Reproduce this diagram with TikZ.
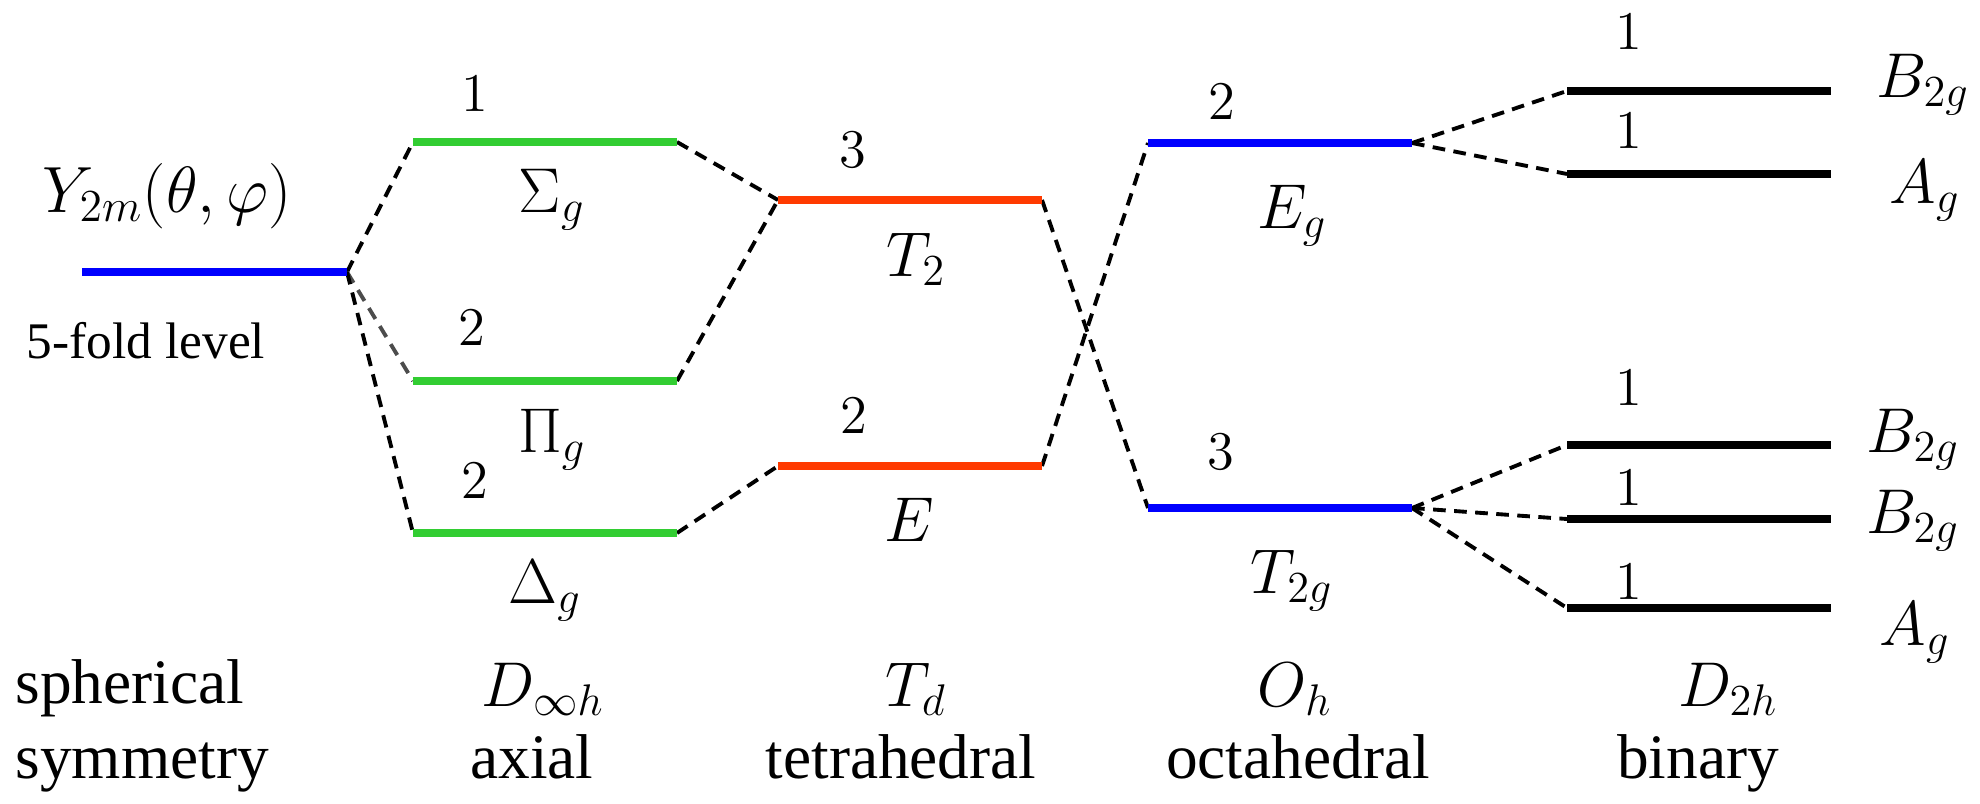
\documentclass[tikz,border=0pt]{standalone}
\usepackage{fix-cm}
\usepackage[no-math]{fontspec}
\setmainfont{Liberation Serif}
\definecolor{lvblue}{RGB}{0,0,255}
\definecolor{lvgreen}{RGB}{50,205,50}
\definecolor{lvred}{RGB}{255,58,0}

\begin{document}
\begin{tikzpicture}[x=0.01cm, y=-0.01cm,
    lvline/.style={line width=2pt, draw=#1},
    lvline/.default=black,
    split/.style={dash pattern=on 3.6pt off 2.4pt, line width=1.1pt},
    degnum/.style={font=\fontsize{15.5}{18}\selectfont, inner sep=0pt},
    irrep/.style={font=\fontsize{18}{22}\selectfont, inner sep=0pt, anchor=base},
    txtlab/.style={font=\fontsize{18}{22}\selectfont, inner sep=0pt, anchor=base}
  ]
  \useasboundingbox (0,0) rectangle (1980,803);

  % Level ends
  \coordinate (sphL) at (82,272);   \coordinate (sphR) at (347,272);
  \coordinate (sigL) at (413,142);  \coordinate (sigR) at (677,142);
  \coordinate (piL) at (413,381);   \coordinate (piR) at (677,381);
  \coordinate (delL) at (413,533);  \coordinate (delR) at (677,533);
  \coordinate (ttL) at (778,200);   \coordinate (ttR) at (1042,200);
  \coordinate (eeL) at (778,466);   \coordinate (eeR) at (1042,466);
  \coordinate (egL) at (1148,143);  \coordinate (egR) at (1412,143);
  \coordinate (tgL) at (1148,508);  \coordinate (tgR) at (1412,508);
  \coordinate (bAL) at (1567,91);   \coordinate (bAR) at (1831,91);
  \coordinate (bBL) at (1567,174);  \coordinate (bBR) at (1831,174);
  \coordinate (bCL) at (1567,445);  \coordinate (bCR) at (1831,445);
  \coordinate (bDL) at (1567,519);  \coordinate (bDR) at (1831,519);
  \coordinate (bEL) at (1567,608);  \coordinate (bER) at (1831,608);

  % Splittings
  \draw[split] (sphR) -- (sigL);
  \draw[split, black!70] (sphR) -- (piL);
  \draw[split] (sphR) -- (delL);
  \draw[split] (sigR) -- (ttL);
  \draw[split] (piR) -- (ttL);
  \draw[split] (delR) -- (eeL);
  \draw[split] (ttR) -- (tgL);
  \draw[split] (eeR) -- (egL);
  \draw[split] (egR) -- (bAL);
  \draw[split] (egR) -- (bBL);
  \draw[split] (tgR) -- (bCL);
  \draw[split] (tgR) -- (bDL);
  \draw[split] (tgR) -- (bEL);

  % Levels
  \draw[lvline=lvblue] (sphL) -- (sphR);
  \draw[lvline=lvgreen] (sigL) -- (sigR);
  \draw[lvline=lvgreen] (piL) -- (piR);
  \draw[lvline=lvgreen] (delL) -- (delR);
  \draw[lvline=lvred] (ttL) -- (ttR);
  \draw[lvline=lvred] (eeL) -- (eeR);
  \draw[lvline=lvblue] (egL) -- (egR);
  \draw[lvline=lvblue] (tgL) -- (tgR);
  \draw[lvline, line width=2.3pt] (bAL) -- (bAR);
  \draw[lvline, line width=2.3pt] (bBL) -- (bBR);
  \draw[lvline, line width=2.3pt] (bCL) -- (bCR);
  \draw[lvline, line width=2.3pt] (bDL) -- (bDR);
  \draw[lvline, line width=2.3pt] (bEL) -- (bER);

  % Degeneracies
  \node[degnum] (nsig) at (475,94) {$1$};
  \node[degnum] (npi) at (472,328) {$2$};
  \node[degnum] (ndel) at (475,481) {$2$};
  \node[degnum] (ntt) at (853,150) {$3$};
  \node[degnum] (nee) at (854,416) {$2$};
  \node[degnum] (neg) at (1222,102) {$2$};
  \node[degnum] (ntg) at (1221,452) {$3$};
  \node[degnum] (nbA) at (1629,32) {$1$};
  \node[degnum] (nbB) at (1629,131) {$1$};
  \node[degnum] (nbC) at (1629,388) {$1$};
  \node[degnum] (nbD) at (1629,488) {$1$};
  \node[degnum] (nbE) at (1629,582) {$1$};

  % Irreps
  \node[irrep, font=\fontsize{18.6}{22}\selectfont] (ylm) at (167,212) {$Y_{2m}(\theta,\varphi)$};
  \node[txtlab, font=\fontsize{14.6}{17}\selectfont] (fold) at (146,358) {5-fold level};
  \node[irrep] (sig) at (552,212) {$\Sigma_g$};
  \node[irrep] (pi) at (552,452) {$\Pi_g$};
  \node[irrep] (del) at (545,603) {$\Delta_g$};
  \node[irrep] (tt) at (916,276) {$T_2$};
  \node[irrep] (ee) at (909,541) {$E$};
  \node[irrep] (eg) at (1292,228) {$E_g$};
  \node[irrep] (tg) at (1292,593) {$T_{2g}$};
  \node[irrep] (bA) at (1923,97) {$B_{2g}$};
  \node[irrep] (bB) at (1925,203) {$A_g$};
  \node[irrep] (bC) at (1913,452) {$B_{2g}$};
  \node[irrep] (bD) at (1913,533) {$B_{2g}$};
  \node[irrep] (bE) at (1915,645) {$A_g$};

  % Symmetry groups
  \node[txtlab, anchor=base west] (sph1) at (15,703) {spherical};
  \node[txtlab, anchor=base west] (sph2) at (15,778) {symmetry};
  \node[irrep] (gD) at (543,706) {$D_{\infty h}$};
  \node[irrep] (gT) at (916,706) {$T_d$};
  \node[irrep] (gO) at (1295,706) {$O_h$};
  \node[irrep] (gB) at (1728,706) {$D_{2h}$};
  \node[txtlab] (wD) at (532,778) {axial};
  \node[txtlab] (wT) at (901,778) {tetrahedral};
  \node[txtlab] (wO) at (1298,778) {octahedral};
  \node[txtlab] (wB) at (1698,778) {binary};
\end{tikzpicture}
\end{document}
